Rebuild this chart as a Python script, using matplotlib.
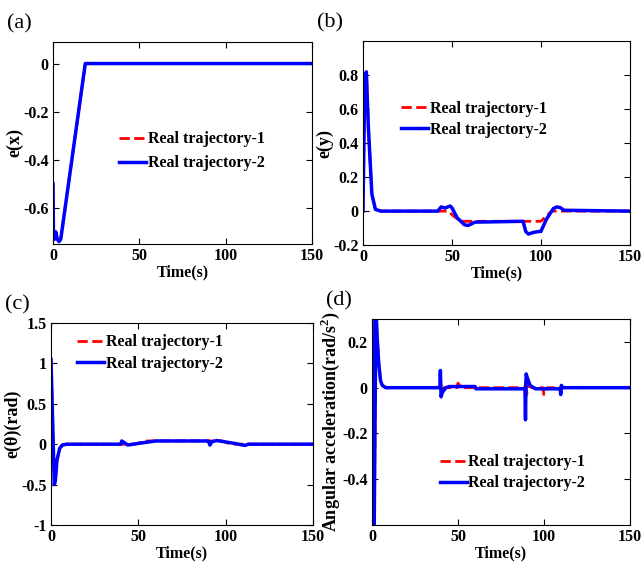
import matplotlib
matplotlib.use("Agg")
import matplotlib.pyplot as plt

plt.rcParams['font.family'] = ['Liberation Serif', 'DejaVu Serif']
plt.rcParams['font.weight'] = 'bold'
plt.rcParams['mathtext.fontset'] = 'custom'
plt.rcParams['mathtext.rm'] = 'Liberation Serif:bold'
plt.rcParams['mathtext.bf'] = 'Liberation Serif:bold'

series_names = ["Real trajectory-1", "Real trajectory-2"]

# (a) e(x)
t_a = [0, 0.3, 1.0, 1.6, 2.5, 3.5, 4.5, 18.7, 150]
ex_1 = [-0.5, -0.73, -0.73, -0.70, -0.73, -0.74, -0.73, 0.0, 0.0]
ex_2 = [-0.5, -0.73, -0.73, -0.70, -0.73, -0.74, -0.73, 0.0, 0.0]

# (b) e(y)
t_b1 = [0, 1.0, 1.9, 3, 5, 7, 10, 48, 51, 55, 100, 103, 106, 150]
ey_1 = [0, 0.78, 0.82, 0.5, 0.1, 0.01, 0, 0, -0.03, -0.06, -0.06, -0.03, 0, 0]
t_b2 = [0, 1.0, 1.9, 3, 5, 7, 10, 42, 44, 46, 49, 50, 53, 57, 59, 63, 90, 91.5,
        93, 96, 99, 100, 103, 107, 109, 111, 113, 150]
ey_2 = [0, 0.78, 0.82, 0.5, 0.1, 0.01, 0, 0, 0.025, 0.018, 0.03, 0.02, -0.04,
        -0.08, -0.085, -0.065, -0.06, -0.12, -0.135, -0.125, -0.12, -0.12, -0.05,
        0.015, 0.025, 0.02, 0.005, 0]

# (c) e(theta)
t_c1 = [0, 1.9, 2.5, 3.4, 5, 6.5, 9, 48, 55, 60, 98, 103, 150]
et_1 = [1.05, -0.5, -0.45, -0.2, -0.05, -0.01, 0, 0, 0.04, 0.04, 0.04, 0.0, 0]
t_c2 = [0, 1.9, 2.5, 3.4, 5, 6.5, 9, 40, 40.5, 44, 50, 60, 90, 91, 92, 95, 105,
        111, 113, 150]
et_2 = [1.05, -0.5, -0.45, -0.2, -0.05, -0.01, 0, 0, 0.04, -0.01, 0.01, 0.04,
        0.04, -0.01, 0.03, 0.045, 0.01, -0.015, 0, 0]

# (d) angular acceleration
t_d1 = [0, 1.2, 2.3, 3, 4, 5, 6, 8, 39.5, 40, 40.5, 42, 49.5, 50, 51, 52, 89,
        89.5, 90, 91, 93, 99.5, 100, 101, 102, 150]
aa_1 = [0.35, -0.7, 0.35, 0.22, 0.1, 0.03, 0.01, 0, 0, 0.02, -0.02, 0, 0, 0.02,
        0.01, 0, 0, 0.03, -0.03, 0.01, 0, 0, -0.03, -0.01, 0, 0]
t_d2 = [0, 1.2, 2.3, 3, 4, 5, 6, 8, 39.5, 39.8, 40.2, 41, 43, 45, 60, 60.5, 89,
        89.3, 89.7, 90.5, 92, 95, 97, 109.5, 109.8, 110.2, 111, 150]
aa_2 = [0.35, -0.7, 0.35, 0.22, 0.1, 0.03, 0.01, 0, 0, 0.075, -0.04, -0.02, 0,
        0.005, 0.005, -0.005, -0.005, -0.14, 0.06, 0.04, 0.01, -0.005, -0.005,
        -0.005, -0.03, 0.01, 0, 0]

fig = plt.figure(figsize=(6.43, 5.66), dpi=100)

panels = [
    dict(rect=[0.0824, 0.569, 0.403, 0.357], t1=t_a, y1=ex_1, t2=t_a, y2=ex_2,
         ylim=(-0.75, 0.09), yticks=[-0.6, -0.4, -0.2, 0], ylabel="e(x)",
         tag="(a)", leg=(0.23, 0.59), ls=0.5),
    dict(rect=[0.5645, 0.567, 0.415, 0.360], t1=t_b1, y1=ey_1, t2=t_b2, y2=ey_2,
         ylim=(-0.2, 1.0), yticks=[-0.2, 0, 0.2, 0.4, 0.6, 0.8], ylabel="e(y)",
         tag="(b)", leg=(0.118, 0.74), ls=0.32),
    dict(rect=[0.0793, 0.0724, 0.4075, 0.357], t1=t_c1, y1=et_1, t2=t_c2, y2=et_2,
         ylim=(-1, 1.5), yticks=[-1, -0.5, 0, 0.5, 1, 1.5], ylabel="e(θ)(rad)",
         tag="(c)", leg=(0.075, 0.975), ls=0.32),
    dict(rect=[0.5785, 0.0724, 0.401, 0.364], t1=t_d1, y1=aa_1, t2=t_d2, y2=aa_2,
         ylim=(-0.6, 0.3), yticks=[-0.4, -0.2, 0, 0.2],
         ylabel="Angular acceleration(rad/s$^{\\mathrm{2}}$)",
         tag="(d)", leg=(0.238, 0.375), ls=0.32),
]

for p in panels:
    ax = fig.add_axes(p["rect"])
    ax.plot(p["t1"], p["y1"], color=(1, 0, 0), ls="--", lw=2.0, label=series_names[0])
    ax.plot(p["t2"], p["y2"], color=(0, 0, 1), ls="-", lw=2.5, label=series_names[1])
    ax.set_xlim(0, 150)
    ax.set_ylim(*p["ylim"])
    ax.set_xticks([0, 50, 100, 150])
    ax.set_yticks(p["yticks"])
    ax.set_yticklabels([("%g" % v) for v in p["yticks"]])
    ax.tick_params(direction="in", top=True, right=True, labelsize=11.5, length=4,
                   width=0.8, pad=3)
    for lab in ax.get_xticklabels() + ax.get_yticklabels():
        lab.set_fontweight("bold")
    ax.set_xlabel("Time(s)", fontsize=11.5, fontweight="bold", labelpad=0)
    ax.set_ylabel(p["ylabel"], fontsize=13, fontweight="bold", labelpad=0)
    leg = ax.legend(loc="upper left", bbox_to_anchor=p["leg"], frameon=False,
                    fontsize=11.5, handlelength=1.7, handletextpad=0.1,
                    labelspacing=p["ls"], borderaxespad=0)
    for t in leg.get_texts():
        t.set_fontweight("bold")
    x0, y0, w, h = p["rect"]
    fig.text(x0 - 0.072, y0 + h + 0.015, p["tag"], fontsize=16, fontweight="normal",
             ha="left", va="bottom")

fig.savefig("out.png", dpi=100)
